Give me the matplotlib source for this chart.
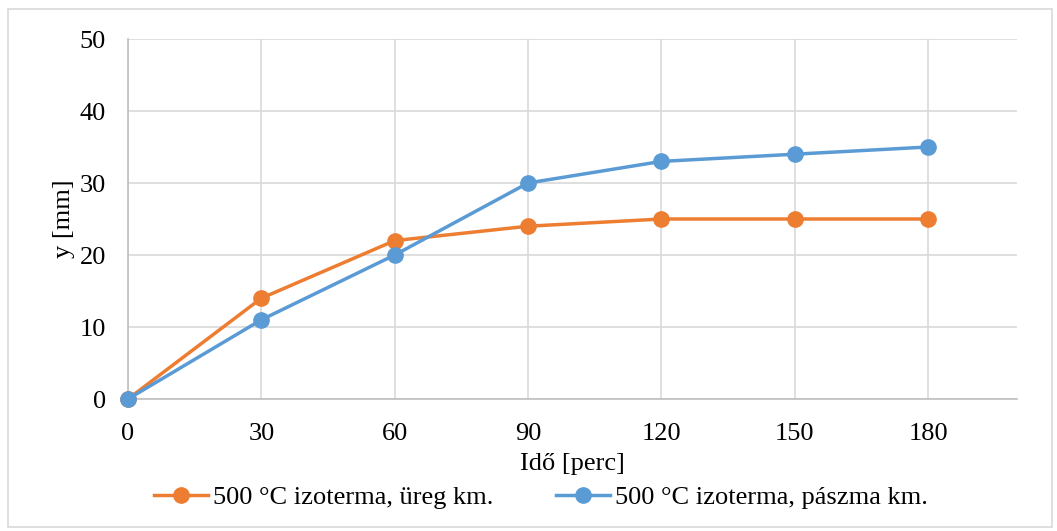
import matplotlib
matplotlib.use("Agg")
import matplotlib.pyplot as plt
from matplotlib.patches import Rectangle

time_min = [0, 30, 60, 90, 120, 150, 180]
ureg = [0, 14, 22, 24, 25, 25, 25]
paszma = [0, 11, 20, 30, 33, 34, 35]
label_ureg = "500 °C izoterma, üreg km."
label_paszma = "500 °C izoterma, pászma km."
xticks = [0, 30, 60, 90, 120, 150, 180]
yticks = [0, 10, 20, 30, 40, 50]

plt.rcParams['font.family'] = ['Liberation Serif', 'DejaVu Serif']
FS = 19

fig = plt.figure(figsize=(10.57, 5.31), dpi=100)
fig.patches.append(Rectangle((8/1057, 1 - 527/531), (1052-8)/1057, (527-9)/531,
                             transform=fig.transFigure, fill=False,
                             edgecolor='#d9d9d9', linewidth=1.2))
ax = fig.add_axes([128/1057, 1 - 399/531, (1017-128)/1057, (399-39)/531])

ax.plot(time_min, ureg, color='#ED7D31', lw=2.5, marker='o', ms=11,
        label=label_ureg, zorder=3, clip_on=False)
ax.plot(time_min, paszma, color='#5B9BD5', lw=2.5, marker='o', ms=11,
        label=label_paszma, zorder=4, clip_on=False)

ax.set_xlim(0, 200)
ax.set_ylim(0, 50)
ax.set_xticks(xticks)
ax.set_yticks(yticks)
ax.grid(True, color='#d9d9d9', lw=1.2)
ax.set_axisbelow(True)
for s in ['top', 'right']:
    ax.spines[s].set_visible(False)
ax.spines['left'].set_color('#bfbfbf')
ax.spines['bottom'].set_color('#bfbfbf')
ax.spines['left'].set_linewidth(1.2)
ax.spines['bottom'].set_linewidth(1.2)
ax.tick_params(length=0, labelsize=FS)
ax.tick_params(axis='x', pad=17)
ax.tick_params(axis='y', pad=16)

ax.set_xlabel("Idő [perc]", fontsize=FS, labelpad=6)
ax.set_ylabel("y [mm]", fontsize=FS, labelpad=3)

fig.legend(loc='center', bbox_to_anchor=(541/1057, 1 - 497/531), ncol=2,
           frameon=False, fontsize=FS, handlelength=2.05, columnspacing=2.35,
           handletextpad=0.2, borderaxespad=0)

fig.savefig("out.png", dpi=100)
